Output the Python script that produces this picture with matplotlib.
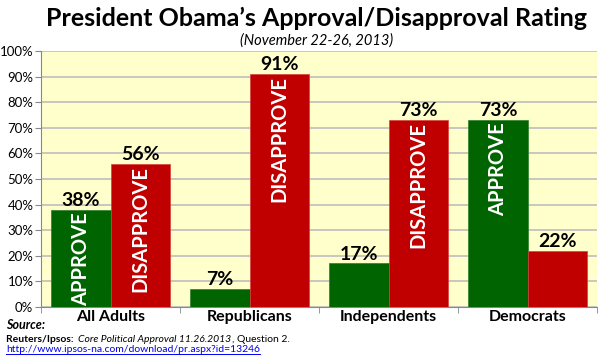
import numpy as np
import matplotlib
matplotlib.use("Agg")
import matplotlib.pyplot as plt
from matplotlib.ticker import FixedLocator, PercentFormatter

# Datos del gráfico
categorias = ["All Adults", "Republicans", "Independents", "Democrats"]
aprueba = [38, 7, 17, 73]
desaprueba = [56, 91, 73, 22]
# Etiqueta dentro de la barra (None = sin texto)
texto_aprueba = ["APPROVE", None, None, "APPROVE"]
texto_desaprueba = ["DISAPPROVE", "DISAPPROVE", "DISAPPROVE", None]

verde = "#006400"
rojo = "#C00000"
fondo = "#FFFFCC"

plt.rcParams["font.family"] = ["Lato", "DejaVu Sans"]

fig = plt.figure(figsize=(5.98, 3.55), dpi=100)
ax = fig.add_axes([41 / 598, 1 - 307 / 355, 556 / 598, 256 / 355])
ax.set_facecolor(fondo)

x = np.arange(len(categorias))
ancho = 0.425
b1 = ax.bar(x - ancho / 2, aprueba, ancho, color=verde, edgecolor="#2e7d2e", linewidth=0.5, zorder=3)
b2 = ax.bar(x + ancho / 2, desaprueba, ancho, color=rojo, edgecolor="#d84040", linewidth=0.5, zorder=3)

# Etiquetas de valor sobre las barras
for barras, valores in [(b1, aprueba), (b2, desaprueba)]:
    for b, v in zip(barras, valores):
        ax.text(b.get_x() + b.get_width() / 2, v + 0.3, f"{v}%", ha="center", va="bottom",
                fontsize=14, fontweight="bold", color="black", zorder=4)

# Texto vertical dentro de las barras
for barras, valores, textos in [(b1, aprueba, texto_aprueba), (b2, desaprueba, texto_desaprueba)]:
    for b, v, t in zip(barras, valores, textos):
        if t:
            ax.text(b.get_x() + b.get_width() / 2, v - 0.9, t, rotation=90, ha="center", va="top",
                    fontsize=14.5, fontweight="bold", color="white", zorder=4)

ax.set_xlim(-0.5, len(categorias) - 0.5)
ax.set_ylim(0, 100)
ax.yaxis.set_major_locator(FixedLocator(np.arange(0, 101, 10)))
ax.yaxis.set_major_formatter(PercentFormatter(decimals=0))
ax.grid(axis="y", color="#BEBEBE", linewidth=1.2, zorder=0)
ax.set_axisbelow(True)

# Marcas entre categorías
ax.set_xticks(x)
ax.set_xticklabels(categorias, fontsize=11.5, fontweight="bold")
ax.tick_params(axis="x", length=0, pad=2)
ax.set_xticks(np.arange(-0.5, len(categorias)), minor=True)
ax.tick_params(axis="x", which="minor", length=4, color="#888888")
ax.tick_params(axis="y", length=4, color="#888888", labelsize=9.5, pad=1.5)

for lado in ["top", "right"]:
    ax.spines[lado].set_visible(False)
for lado in ["left", "bottom"]:
    ax.spines[lado].set_color("#888888")

# Títulos
fig.text(0.53, 0.948, "President Obama’s Approval/Disapproval Rating", ha="center", va="center",
         fontsize=18, fontweight="bold")
fig.text(0.53, 0.887, "(November 22-26, 2013)", ha="center", va="center", fontsize=10.5, style="italic")

# Fuente
fig.text(0.01, 1 - 325 / 355, "Source:", ha="left", va="center", fontsize=9, fontweight="bold", style="italic")

# Línea de referencia: los trozos se encadenan uno tras otro
rend = fig.canvas.get_renderer()
trozos = [("Reuters/Ipsos:  ", "bold", "normal"),
          ("Core Political Approval 11.26.2013", "normal", "italic"),
          (", Question 2.", "normal", "normal")]
xpos = 0.01
for texto, peso, estilo in trozos:
    t = fig.text(xpos, 1 - 340 / 355, texto, ha="left", va="center", fontsize=7.5,
                 fontweight=peso, style=estilo)
    ext = t.get_window_extent(rend)
    xpos = ext.x1 / fig.bbox.width

url = fig.text(0.01, 1 - 349 / 355, "http://www.ipsos-na.com/download/pr.aspx?id=13246", ha="left",
               va="center", fontsize=7.5, color="#0000EE")
ext = url.get_window_extent(rend)
fig.add_artist(plt.Line2D([0.01, ext.x1 / fig.bbox.width], [1 - 353.5 / 355] * 2,
                          color="#0000EE", linewidth=0.7))

fig.savefig("out.png", dpi=100)
